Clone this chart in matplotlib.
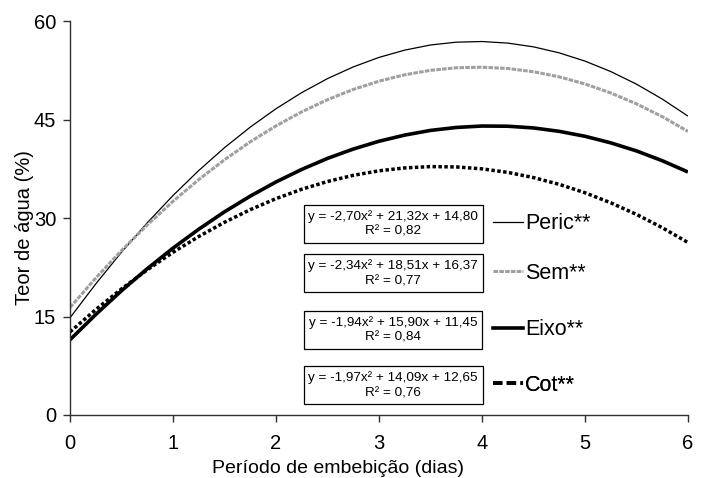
import matplotlib
matplotlib.use("Agg")
import matplotlib.pyplot as plt
from matplotlib.lines import Line2D

plt.rcParams['font.family'] = ['Liberation Sans', 'DejaVu Sans']

# period of imbibition (days), read every 0.25 day along each fitted curve
dias = [0, 0.25, 0.5, 0.75, 1, 1.25, 1.5, 1.75, 2, 2.25, 2.5, 2.75, 3,
        3.25, 3.5, 3.75, 4, 4.25, 4.5, 4.75, 5, 5.25, 5.5, 5.75, 6]

peric = [14.80, 19.96, 24.79, 29.27, 33.42, 37.23, 40.71, 43.84, 46.64,
         49.10, 51.23, 53.01, 54.46, 55.57, 56.35, 56.78, 56.88, 56.64,
         56.07, 55.15, 53.90, 52.31, 50.39, 48.12, 45.52]
sem = [16.37, 20.85, 25.04, 28.94, 32.54, 35.85, 38.87, 41.60, 44.03,
       46.17, 48.02, 49.58, 50.84, 51.81, 52.49, 52.88, 52.97, 52.77,
       52.28, 51.50, 50.42, 49.05, 47.39, 45.44, 43.19]
eixo = [11.45, 15.30, 18.92, 22.28, 25.41, 28.29, 30.94, 33.33, 35.49,
        37.40, 39.08, 40.50, 41.69, 42.63, 43.34, 43.79, 44.01, 43.98,
        43.72, 43.20, 42.45, 41.45, 40.22, 38.73, 37.01]
cot = [12.65, 16.05, 19.20, 22.11, 24.77, 27.18, 29.35, 31.27, 32.95,
       34.38, 35.56, 36.50, 37.19, 37.63, 37.83, 37.78, 37.49, 36.95,
       36.16, 35.13, 33.85, 32.32, 30.55, 28.53, 26.27]

nomes = ["Peric**", "Sem**", "Eixo**", "Cot**"]
equacoes = [
    "y = -2,70x² + 21,32x + 14,80\nR² = 0,82",
    "y = -2,34x² + 18,51x + 16,37\nR² = 0,77",
    "y = -1,94x² + 15,90x + 11,45\nR² = 0,84",
    "y = -1,97x² + 14,09x + 12,65\nR² = 0,76",
]
xticks = [0, 1, 2, 3, 4, 5, 6]
yticks = [0, 15, 30, 45, 60]

fig = plt.figure(figsize=(7.04, 4.78), dpi=100)
ax = fig.add_axes([0.0994, 0.1318, 0.8778, 0.8242])

estilos = [
    dict(color='black', lw=0.9, ls='-'),
    dict(color='#a0a0a0', lw=2.2, ls=(0, (1.5, 0.4))),
    dict(color='black', lw=2.6, ls='-'),
    dict(color='black', lw=2.5, ls=(0, (1.0, 0.7))),
]
for serie, st in zip([peric, sem, eixo, cot], estilos):
    ax.plot(dias, serie, solid_capstyle='butt', dash_capstyle='butt', **st)

ax.set_xlim(0, 6)
ax.set_ylim(0, 60)
ax.set_xticks(xticks)
ax.set_yticks(yticks)
for s in ['top', 'right']:
    ax.spines[s].set_visible(False)
for s in ['left', 'bottom']:
    ax.spines[s].set_color('#303030')
    ax.spines[s].set_linewidth(1.0)
ax.tick_params(axis='both', colors='#303030', labelcolor='black',
               labelsize=14.5, length=5, width=1.0)
ax.tick_params(axis='x', pad=9)
ax.tick_params(axis='y', pad=5)

ax.set_xlabel("Período de embebição (dias)", fontsize=14)
ax.set_ylabel("Teor de água (%)", fontsize=14.5)
ax.xaxis.set_label_coords(0.433, -0.115)
ax.yaxis.set_label_coords(-0.058, 0.477)

# equation boxes and legend entries, one row per tissue
ypos = [0.485, 0.360, 0.216, 0.076]
leg_handles = [
    Line2D([], [], color='black', lw=0.9),
    Line2D([], [], color='#a0a0a0', lw=2.2, ls=(0, (1.5, 0.4))),
    Line2D([], [], color='black', lw=2.6),
    Line2D([], [], color='black', lw=2.6, ls=(0, (2.6, 1.2))),
]
for eq, nome, h, yp in zip(equacoes, nomes, leg_handles, ypos):
    ax.text(0.523, yp, eq, transform=ax.transAxes, ha='center', va='center',
            fontsize=9.7, linespacing=1.35,
            bbox=dict(boxstyle='square,pad=0.35', fc='white', ec='black', lw=0.9))
    leg = ax.legend([h], [nome], loc='center left', bbox_to_anchor=(0.684, yp),
                    frameon=False, fontsize=15.5, borderpad=0, borderaxespad=0,
                    handlelength=1.4, handletextpad=0.1)
    ax.add_artist(leg)

fig.savefig("out.png", dpi=100)
